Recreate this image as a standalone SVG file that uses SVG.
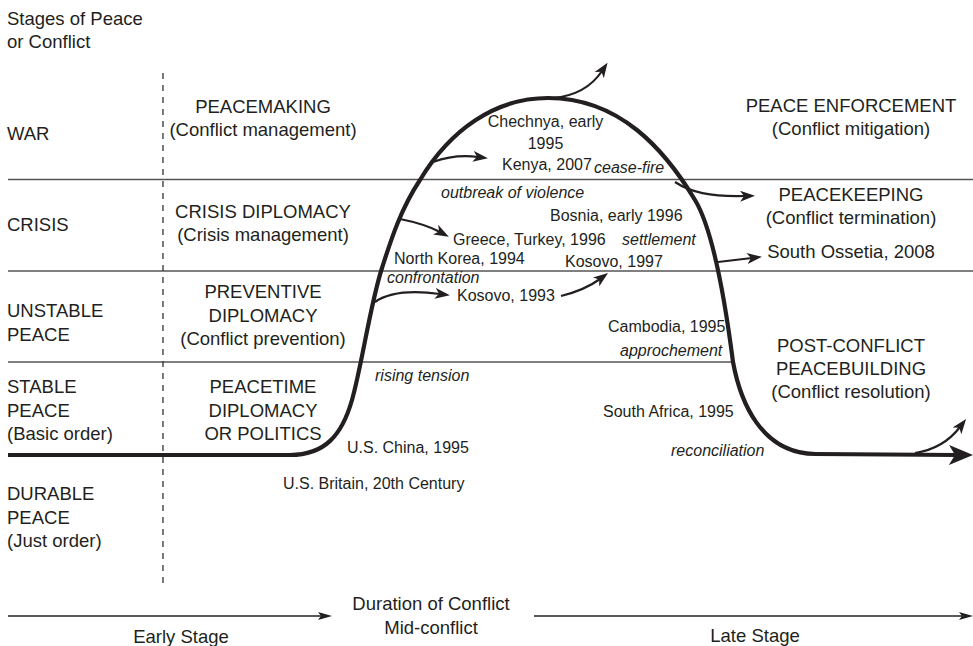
<svg xmlns="http://www.w3.org/2000/svg" width="973" height="646" viewBox="0 0 973 646">
<style>
text{font-family:"Liberation Sans",Arial,sans-serif;fill:#231f20}
.b{font-size:18.5px}
.s{font-size:16px}
.i{font-size:16px;font-style:italic}
.m{text-anchor:middle}
.grid{stroke:#555;stroke-width:1.6;fill:none}
.dash{stroke:#333;stroke-width:1.3;stroke-dasharray:6 6;fill:none}
.main{stroke:#231f20;stroke-width:4.2;fill:none;stroke-linejoin:round}
.arr{stroke:#231f20;stroke-width:2.2;fill:none}
.axis{stroke:#231f20;stroke-width:1.4;fill:none}
</style>
<defs>
<marker id="big" viewBox="0 0 24 20" refX="7" refY="10" markerWidth="24" markerHeight="20" markerUnits="userSpaceOnUse" orient="auto"><path d="M0,0 L24,10 L0,20 L6,10 Z" fill="#231f20"/></marker>
<marker id="sm" viewBox="0 0 15 11" refX="5" refY="5.5" markerWidth="15" markerHeight="11" markerUnits="userSpaceOnUse" orient="auto"><path d="M0,0 L15,5.5 L0,11 L4,5.5 Z" fill="#231f20"/></marker>
<marker id="ax" viewBox="0 0 14 8" refX="4" refY="4" markerWidth="14" markerHeight="8" markerUnits="userSpaceOnUse" orient="auto"><path d="M0,0 L14,4 L0,8 L3,4 Z" fill="#231f20"/></marker>
</defs>
<g id="grid">
<line class="grid" x1="8" y1="179.5" x2="973" y2="179.5"/>
<line class="grid" x1="8" y1="271" x2="973" y2="271"/>
<line class="grid" x1="8" y1="362" x2="735" y2="362"/>
<line class="dash" x1="163" y1="73" x2="163" y2="584"/>
</g>
<g id="connectors">
<path class="main" marker-end="url(#big)" d="M8 455 H290 C325 455 342 435 352 400 C362 365 370 305 382 268 C390 243 400 210 420 180 C450 130 495 98 548 98 C620 98 665 150 695 200 C712 228 725 300 733 362 C740 400 760 453 815 454 L956 455"/>
<path class="arr" stroke-width="2.6" marker-end="url(#sm)" d="M553 98 C575 96 592 86 602 71"/>
<path class="arr" stroke-width="2.6" marker-end="url(#sm)" d="M915 453 C935 450 950 440 960 427"/>
<path class="arr" marker-end="url(#sm)" d="M433 162 Q455 154 478 157"/>
<path class="arr" marker-end="url(#sm)" d="M400 219 Q425 224 440 232"/>
<path class="arr" marker-end="url(#sm)" d="M375 302 Q395 288 440 294"/>
<path class="arr" marker-end="url(#sm)" d="M561 296 Q585 290 600 279"/>
<path class="arr" marker-end="url(#sm)" d="M675 182 C690 192 710 197 745 196"/>
<path class="arr" marker-end="url(#sm)" d="M718 262 Q735 260 752 258"/>
<path class="axis" marker-end="url(#ax)" d="M8 616 H322"/>
<path class="axis" marker-end="url(#ax)" d="M534 616 H963"/>
</g>
<g id="title"><text class="b" x="7" y="25">Stages of Peace</text><text class="b" x="7" y="48">or Conflict</text></g>
<g id="war"><text class="b" x="7" y="140">WAR</text></g>
<g id="crisis"><text class="b" x="7" y="231">CRISIS</text></g>
<g id="unstable"><text class="b" x="7" y="317">UNSTABLE</text><text class="b" x="7" y="341">PEACE</text></g>
<g id="stable"><text class="b" x="7" y="393">STABLE</text><text class="b" x="7" y="417">PEACE</text><text class="b" x="7" y="440">(Basic order)</text></g>
<g id="durable"><text class="b" x="7" y="500">DURABLE</text><text class="b" x="7" y="524">PEACE</text><text class="b" x="7" y="547">(Just order)</text></g>
<g id="peacemaking"><text class="b m" x="263" y="113">PEACEMAKING</text><text class="b m" x="263" y="136">(Conflict management)</text></g>
<g id="crisis-diplomacy"><text class="b m" x="263" y="218">CRISIS DIPLOMACY</text><text class="b m" x="263" y="241">(Crisis management)</text></g>
<g id="preventive"><text class="b m" x="263" y="298">PREVENTIVE</text><text class="b m" x="263" y="322">DIPLOMACY</text><text class="b m" x="263" y="345">(Conflict prevention)</text></g>
<g id="peacetime"><text class="b m" x="263" y="393">PEACETIME</text><text class="b m" x="263" y="417">DIPLOMACY</text><text class="b m" x="263" y="440">OR POLITICS</text></g>
<g id="enforcement"><text class="b m" x="851" y="112">PEACE ENFORCEMENT</text><text class="b m" x="851" y="135">(Conflict mitigation)</text></g>
<g id="peacekeeping"><text class="b m" x="851" y="201">PEACEKEEPING</text><text class="b m" x="851" y="224">(Conflict termination)</text><text class="b m" x="851" y="258">South Ossetia, 2008</text></g>
<g id="peacebuilding"><text class="b m" x="851" y="352">POST-CONFLICT</text><text class="b m" x="851" y="375">PEACEBUILDING</text><text class="b m" x="851" y="398">(Conflict resolution)</text></g>
<g id="cases">
<text class="s m" x="545.5" y="127">Chechnya, early</text>
<text class="s m" x="545.5" y="149">1995</text>
<text class="s" x="502" y="170">Kenya, 2007</text>
<text class="i" x="594" y="173">cease-fire</text>
<text class="i" x="441" y="198">outbreak of violence</text>
<text class="s" x="550" y="221">Bosnia, early 1996</text>
<text class="s" x="453" y="245">Greece, Turkey, 1996</text>
<text class="i" x="622" y="245">settlement</text>
<text class="s" x="394" y="264">North Korea, 1994</text>
<text class="s" x="565" y="267">Kosovo, 1997</text>
<text class="i" x="387" y="283">confrontation</text>
<text class="s" x="457" y="301">Kosovo, 1993</text>
<text class="s" x="608" y="332">Cambodia, 1995</text>
<text class="i" x="620" y="356">approchement</text>
<text class="i" x="375" y="381">rising tension</text>
<text class="s" x="603" y="417">South Africa, 1995</text>
<text class="s" x="347" y="453">U.S. China, 1995</text>
<text class="s" x="283" y="489">U.S. Britain, 20th Century</text>
<text class="i" x="671" y="456">reconciliation</text>
</g>
<g id="axis-labels">
<text class="b m" x="181" y="643">Early Stage</text>
<text class="b m" x="431" y="610">Duration of Conflict</text>
<text class="b m" x="431" y="634">Mid-conflict</text>
<text class="b m" x="755" y="642">Late Stage</text>
</g>
</svg>
